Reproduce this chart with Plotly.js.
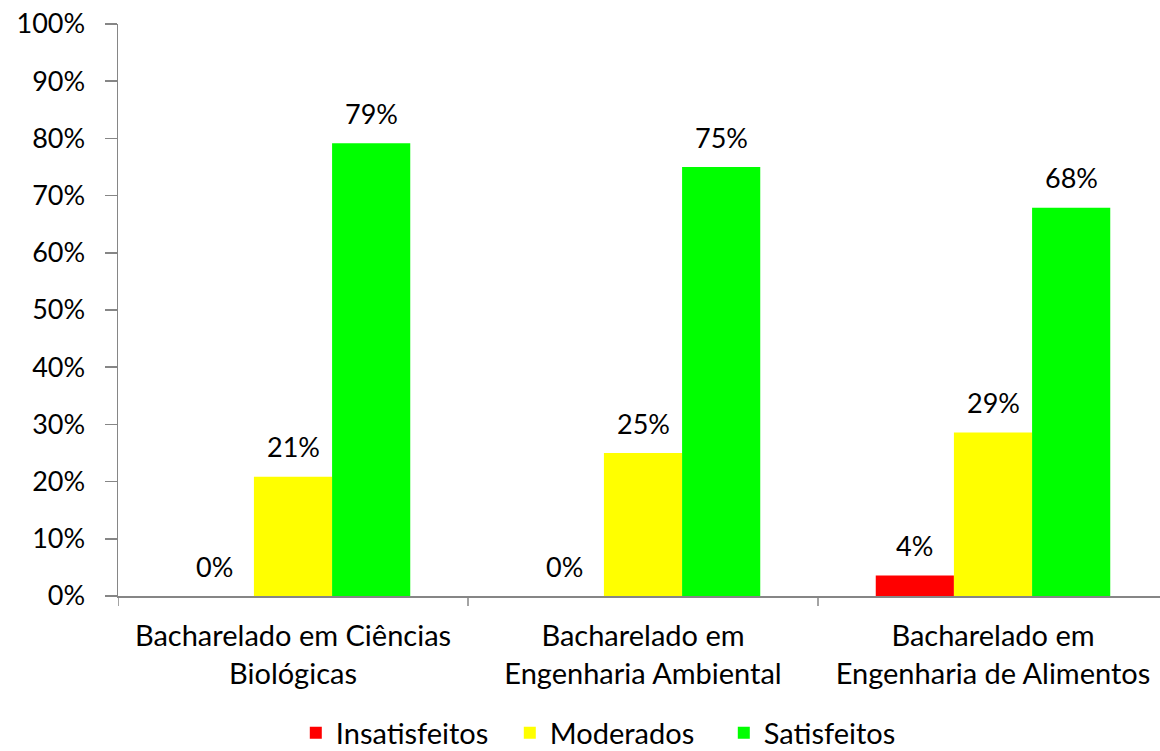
<!DOCTYPE html>
<html>
<head>
<meta charset="utf-8">
<script src="https://cdn.plot.ly/plotly-3.0.1.min.js"></script>
<style>html,body{margin:0;padding:0;background:#fff;}#chart{width:1160px;height:751px;}</style>
</head>
<body>
<div id="chart"></div>
<script>
var categories = ["Bacharelado em Ciências<br>Biológicas", "Bacharelado em<br>Engenharia Ambiental", "Bacharelado em<br>Engenharia de Alimentos"];
var seriesNames = ["Insatisfeitos", "Moderados", "Satisfeitos"];
var insatisfeitos = [0, 0, 3.57];
var moderados = [20.83, 25, 28.57];
var satisfeitos = [79.17, 75, 67.86];
var seriesColors = ["#FF0000", "#FFFF00", "#00FF00"];
var seriesValues = [insatisfeitos, moderados, satisfeitos];

var FONT = "Lato, 'Open Sans', sans-serif";
var FS = 29;
var FSN = 27;
var bargap = 0.33;
var barW = (1 - bargap) / seriesValues.length;

var traces = seriesValues.map(function (vals, k) {
  return {
    type: "bar",
    name: seriesNames[k],
    x: categories.map(function (c, i) { return i; }),
    y: vals,
    marker: { color: seriesColors[k] },
    hoverinfo: "skip"
  };
});

var annotations = [];
seriesValues.forEach(function (vals, k) {
  vals.forEach(function (v, i) {
    annotations.push({
      x: i + (k - (seriesValues.length - 1) / 2) * barW,
      y: v,
      xref: "x", yref: "y",
      text: Math.round(v) + "%",
      showarrow: false,
      yanchor: "middle",
      yshift: 30,
      font: { family: FONT, size: FSN, color: "#000" }
    });
  });
});

var layout = {
  width: 1160, height: 751,
  margin: { l: 118, r: 0, t: 24, b: 155 },
  paper_bgcolor: "#fff", plot_bgcolor: "#fff",
  barmode: "group",
  bargap: bargap,
  bargroupgap: 0,
  font: { family: FONT, size: FS, color: "#000" },
  showlegend: true,
  legend: {
    orientation: "h",
    xref: "container", yref: "container",
    x: 0.255, xanchor: "left",
    y: 0.024, yanchor: "middle",
    font: { family: FONT, size: FS, color: "#000" },
    itemwidth: 30,
    entrywidth: 169,
    traceorder: "normal"
  },
  xaxis: {
    type: "linear",
    range: [-0.5, -0.5 + 1042 / 350],
    tickmode: "array",
    tickvals: [0, 1, 2],
    ticktext: categories,
    ticks: "",
    showline: true, linecolor: "#868686", linewidth: 1.5,
    showgrid: false, zeroline: false,
    ticklabelstandoff: 14,
    fixedrange: true
  },
  yaxis: {
    range: [0, 100],
    dtick: 10,
    ticksuffix: "%",
    ticks: "outside", ticklen: 12, tickcolor: "#868686", tickwidth: 1.5,
    showline: true, linecolor: "#868686", linewidth: 1.5,
    showgrid: false, zeroline: false,
    ticklabelstandoff: 14,
    tickfont: { family: FONT, size: FSN, color: "#000" },
    fixedrange: true
  },
  annotations: annotations
};
// boundary ticks drawn as pixel-sized shapes below the x axis
layout.shapes = [0, 1, 2].map(function (i) {
  return {
    type: "line", xref: "x", yref: "paper",
    ysizemode: "pixel", yanchor: 0,
    x0: i - 0.5, x1: i - 0.5, y0: 0, y1: -10,
    line: { color: "#868686", width: 1.5 }
  };
});

Plotly.newPlot("chart", traces, layout, { displayModeBar: false, staticPlot: true });
</script>
</body>
</html>
